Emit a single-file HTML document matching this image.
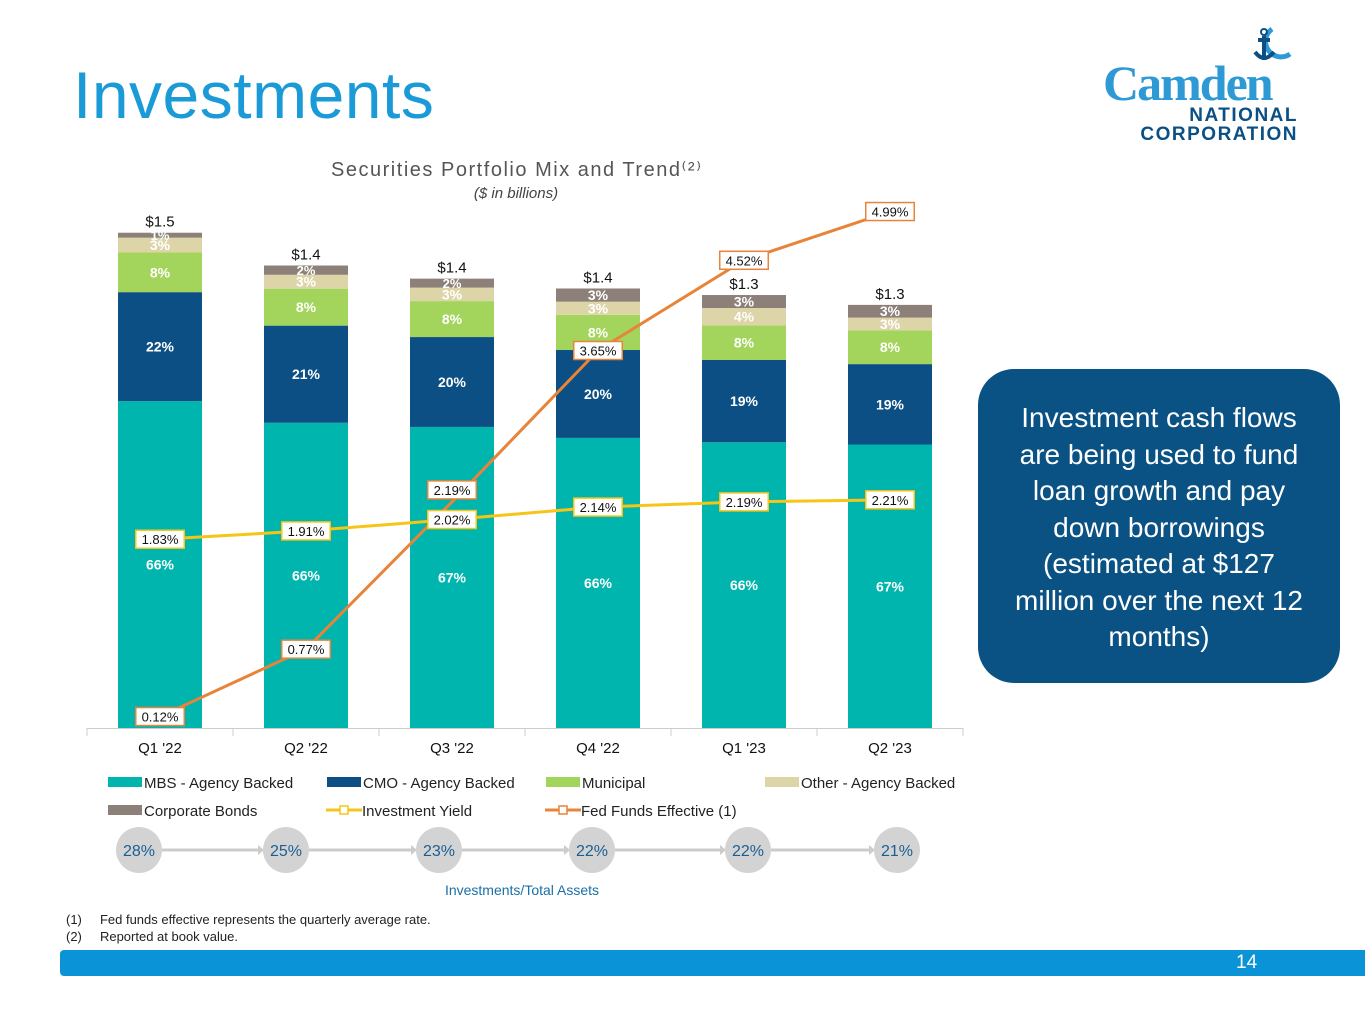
<!DOCTYPE html>
<html><head><meta charset="utf-8"><style>
body{margin:0;width:1365px;height:1024px;background:#fff;font-family:"Liberation Sans",sans-serif;position:relative;overflow:hidden}
.abs{position:absolute}
</style></head><body>
<div class="abs" style="left:73px;top:57px;font-size:66px;color:#1a9ad6;letter-spacing:0.5px">Investments</div>
<div class="abs" style="left:1100px;top:24px;width:200px;height:122px">
  <svg width="200" height="122"><path d="M172 5 A15 15 0 1 0 190 30" fill="none" stroke="#2e9ad5" stroke-width="5"/><path d="M164 12 L164 36 M158 16 L170 16 M155 28 Q164 40 174 28" fill="none" stroke="#0b4f84" stroke-width="4"/><circle cx="164" cy="8" r="3" fill="none" stroke="#0b4f84" stroke-width="2"/></svg>
  <div class="abs" style="left:3px;top:30px;font-family:'Liberation Serif',serif;font-size:50px;font-weight:bold;color:#2e9ad5;letter-spacing:-2px">Camden</div>
  <div class="abs" style="right:2px;top:82px;font-size:19px;font-weight:bold;color:#0b4f84;letter-spacing:1.5px;text-align:right;line-height:19px">NATIONAL<br>CORPORATION</div>
</div>
<svg id="chart" class="abs" style="left:0;top:0" width="1365" height="1024"></svg>
<div class="abs" style="left:978px;top:369px;width:362px;height:314px;background:#0a5184;border-radius:36px;color:#fff;font-size:28px;line-height:36.5px;text-align:center;box-sizing:border-box;padding-top:31px">Investment cash flows<br>are being used to fund<br>loan growth and pay<br>down borrowings<br>(estimated at $127<br>million over the next 12<br>months)</div>
<div class="abs" style="left:66px;top:911px;font-size:13px;line-height:17px;color:#222">(1)&nbsp;&nbsp;&nbsp;&nbsp; Fed funds effective represents the quarterly average rate.<br>(2)&nbsp;&nbsp;&nbsp;&nbsp; Reported at book value.</div>
<div class="abs" style="left:60px;top:950px;width:1305px;height:26px;background:#0b93d8;border-radius:4px 0 0 4px"></div>
<div class="abs" style="left:1236px;top:952px;font-size:19px;color:#fff">14</div>
<script>
const categories=["Q1 '22","Q2 '22","Q3 '22","Q4 '22","Q1 '23","Q2 '23"];
const totals=[1.51,1.41,1.37,1.34,1.32,1.29];
const totalLabels=["$1.5","$1.4","$1.4","$1.4","$1.3","$1.3"];
const mbs=[66,66,67,66,66,67];
const cmo=[22,21,20,20,19,19];
const muni=[8,8,8,8,8,8];
const other=[3,3,3,3,4,3];
const corp=[1,2,2,3,3,3];
const yieldVals=[1.83,1.91,2.02,2.14,2.19,2.21];
const fedVals=[0.12,0.77,2.19,3.65,4.52,4.99];
const ratio=["28%","25%","23%","22%","22%","21%"];
const series=[["mbs",mbs,"#00b5ad"],["cmo",cmo,"#0b4f84"],["municipal",muni,"#a3d45c"],["other-agency",other,"#ddd4a8"],["corporate",corp,"#8c8078"]];
const NS="http://www.w3.org/2000/svg",svg=document.getElementById('chart');
function mk(t,a,txt){const e=document.createElementNS(NS,t);for(const k in a)e.setAttribute(k,a[k]);if(txt!==undefined)e.textContent=txt;svg.appendChild(e);return e;}
const base=728,xc=i=>160+i*146,yv=v=>base-v*328,yr=r=>729-r*103.7,bw=84;
mk('text',{x:516,y:176,'text-anchor':'middle','font-size':20,fill:'#555','textLength':370},'Securities Portfolio Mix and Trend⁽²⁾');
mk('text',{x:516,y:198,'text-anchor':'middle','font-size':15,'font-style':'italic',fill:'#444'},'($ in billions)');
let ax=mk('line',{x1:87,x2:963,y1:base+0.5,y2:base+0.5,stroke:'#ccc'});
for(let i=0;i<=6;i++){let t=mk('line',{x1:87+i*146,x2:87+i*146,y1:base,y2:base+8,stroke:'#ccc'});}
categories.forEach((c,i)=>{
 let cum=0;const h=totals[i]*328;
 series.forEach(([n,arr,col])=>{
  const y0=base-cum/100*h, sh=arr[i]/100*h; cum+=arr[i];
  let r=mk('rect',{x:xc(i)-bw/2,y:y0-sh,width:bw,height:sh,fill:col});
  
  let fs=sh<12?13:14;
  let t=mk('text',{x:xc(i),y:y0-sh/2+5,'text-anchor':'middle','font-size':fs,'font-weight':'bold',fill:'#fff'},arr[i]+'%');
  
 });
 let tl=mk('text',{x:xc(i),y:yv(totals[i])-6,'text-anchor':'middle','font-size':15,fill:'#111'},totalLabels[i]);
 let xl=mk('text',{x:xc(i),y:753,'text-anchor':'middle','font-size':15,fill:'#111'},c);
});
function line(vals,col,name){let p=vals.map((v,i)=>xc(i)+','+yr(v)).join(' ');let l=mk('polyline',{points:p,fill:'none',stroke:col,'stroke-width':3});}
line(yieldVals,'#f5c518','investment-yield-line');
line(fedVals,'#e8843a','fed-funds-line');
const fedDy=[0,0,-12,0,0,0],yieldDy=[0,0,0,0,0,0];
function labels(vals,col,dy,name){vals.forEach((v,i)=>{const txt=v.toFixed(2)+'%',w=txt.length*8.5+6,cy=yr(v)+dy[i];
 let r=mk('rect',{x:xc(i)-w/2,y:cy-9,width:w,height:18,fill:'#fff',stroke:col,'stroke-width':1.5});
 let t=mk('text',{x:xc(i),y:cy+5,'text-anchor':'middle','font-size':13,fill:'#111'},txt);});}
labels(yieldVals,'#f5c518',yieldDy,'yield-label');
labels(fedVals,'#e8843a',fedDy,'fed-label');
const leg=[[108,782,'#00b5ad','MBS - Agency Backed','box'],[327,782,'#0b4f84','CMO - Agency Backed','box'],[546,782,'#a3d45c','Municipal','box'],[765,782,'#ddd4a8','Other - Agency Backed','box'],[108,810,'#8c8078','Corporate Bonds','box'],[326,810,'#f5c518','Investment Yield','line'],[545,810,'#e8843a','Fed Funds Effective (1)','line']];
leg.forEach(([x,y,c,t,k])=>{
 if(k==='box'){let r=mk('rect',{x:x,y:y-5,width:34,height:10,fill:c});}
 else{let l=mk('line',{x1:x,x2:x+36,y1:y,y2:y,stroke:c,'stroke-width':3});let r=mk('rect',{x:x+14,y:y-4,width:8,height:8,fill:'#fff',stroke:c,'stroke-width':1.5});}
 let tx=mk('text',{x:x+36,y:y+6,'font-size':15,fill:'#222'},t);
});
const cx=[139,286,439,592,748,897];
ratio.forEach((r,i)=>{
 if(i<5){let a=mk('line',{x1:cx[i]+23,x2:cx[i+1]-28,y1:850,y2:850,stroke:'#ccc','stroke-width':3});
  let h=mk('polygon',{points:`${cx[i+1]-28},845 ${cx[i+1]-22},850 ${cx[i+1]-28},855`,fill:'#ccc'});}
 let c=mk('circle',{cx:cx[i],cy:850,r:23,fill:'#d3d3d3'});
 let t=mk('text',{x:cx[i],y:856,'text-anchor':'middle','font-size':16,fill:'#1a5f94'},r);
});
let rt=mk('text',{x:522,y:895,'text-anchor':'middle','font-size':14,fill:'#1a6fa6'},'Investments/Total Assets');
</script>
</body></html>
